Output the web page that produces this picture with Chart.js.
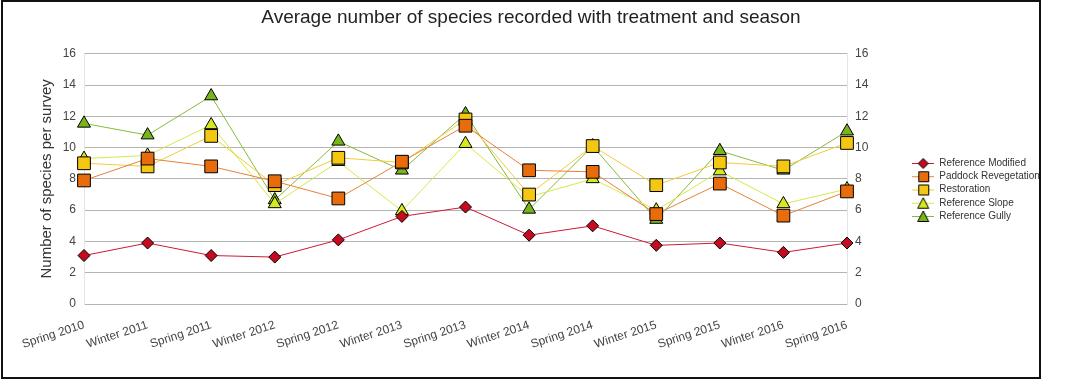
<!DOCTYPE html>
<html>
<head>
<meta charset="utf-8">
<script src="https://cdn.jsdelivr.net/npm/chart.js@4.4.0/dist/chart.umd.min.js"></script>
<style>
  html, body { margin: 0; padding: 0; background: #fff; }
  #box { position: absolute; left: 1px; top: 0; width: 1040px; height: 379px; box-sizing: border-box; border: 2px solid #111; }
  #wrap { position: relative; width: 1036px; height: 375px; }
</style>
</head>
<body>
<div id="box"><div id="wrap"><canvas id="chart"></canvas></div></div>
<script>
const seasons = ["Spring 2010", "Winter 2011", "Spring 2011", "Winter 2012", "Spring 2012", "Winter 2013", "Spring 2013",
  "Winter 2014", "Spring 2014", "Winter 2015", "Spring 2015", "Winter 2016", "Spring 2016"];

const refModified = [3.1, 3.9, 3.1, 3.0, 4.1, 5.6, 6.2, 4.4, 5.0, 3.75, 3.9, 3.3, 3.9];
const paddockReveg = [7.9, 9.3, 8.8, 7.85, 6.75, 9.1, 11.4, 8.55, 8.45, 5.75, 7.7, 5.65, 7.2];
const restoration = [9.0, 8.8, 10.75, 7.6, 9.35, 9.05, 11.8, 7.0, 10.1, 7.6, 9.05, 8.8, 10.3];
const refSlope = [9.3, 9.5, 11.45, 6.4, 9.1, 5.95, 10.25, 6.85, 8.0, 6.0, 8.5, 6.4, 7.35];
const refGully = [11.55, 10.8, 13.3, 6.65, 10.4, 8.55, 12.15, 6.05, 10.1, 5.4, 9.8, 8.55, 11.05];

const yTicks = [0, 2, 4, 6, 8, 10, 12, 14, 16];

const font = "'Liberation Sans', Arial, sans-serif";

// small line + marker icons for the legend
function makeIcon(lineColor, fill, shape) {
  const c = document.createElement("canvas");
  c.width = 22;
  c.height = 14;
  const ctx = c.getContext("2d");
  ctx.strokeStyle = lineColor;
  ctx.lineWidth = 1;
  ctx.beginPath();
  ctx.moveTo(0, 7.5);
  ctx.lineTo(22, 7.5);
  ctx.stroke();
  ctx.fillStyle = fill;
  ctx.strokeStyle = "#000";
  ctx.beginPath();
  if (shape === "diamond") {
    ctx.moveTo(11, 2.5); ctx.lineTo(16, 7.5); ctx.lineTo(11, 12.5); ctx.lineTo(6, 7.5);
  } else if (shape === "square") {
    ctx.rect(6.5, 2.5, 10, 10);
  } else {
    ctx.moveTo(11, 2); ctx.lineTo(16.5, 12.5); ctx.lineTo(5.5, 12.5);
  }
  ctx.closePath();
  ctx.fill();
  ctx.stroke();
  return c;
}

const series = [
  { label: "Reference Modified", data: refModified, line: "#cc1a36", fill: "#c50b1f", style: "rectRot", radius: 6, shape: "diamond" },
  { label: "Paddock Revegetation", data: paddockReveg, line: "#e8803a", fill: "#e96c0c", style: "rect", radius: 9, shape: "square" },
  { label: "Restoration", data: restoration, line: "#f0cc3c", fill: "#f4c812", style: "rect", radius: 9, shape: "square" },
  { label: "Reference Slope", data: refSlope, line: "#d6e84a", fill: "#d5e820", style: "triangle", radius: 7.5, shape: "tri" },
  { label: "Reference Gully", data: refGully, line: "#88bb3a", fill: "#7ab41c", style: "triangle", radius: 7.5, shape: "tri" }
];

const icons = series.map(s => makeIcon(s.line, s.fill, s.shape));

const tickFont = { family: font, size: 12 };

new Chart(document.getElementById("chart"), {
  type: "line",
  data: {
    labels: seasons,
    datasets: series.map(s => ({
      label: s.label,
      data: s.data,
      borderColor: s.line,
      backgroundColor: s.fill,
      borderWidth: 1,
      pointStyle: s.style,
      pointRadius: s.radius,
      pointHoverRadius: s.radius,
      pointBackgroundColor: s.fill,
      pointBorderColor: "#000",
      pointBorderWidth: 1,
      tension: 0,
      yAxisID: "y"
    }))
  },
  options: {
    responsive: true,
    maintainAspectRatio: false,
    animation: false,
    layout: { padding: { left: 20, right: 0, top: 0, bottom: 0 } },
    plugins: {
      title: {
        display: true,
        text: "Average number of species recorded with treatment and season",
        color: "#222",
        font: { family: font, size: 19, weight: "normal" },
        padding: { top: 4, bottom: 25 }
      },
      legend: {
        position: "right",
        maxWidth: 130,
        labels: {
          usePointStyle: true,
          pointStyleWidth: 22,
          padding: 3.25,
          color: "#333",
          font: { family: font, size: 10 },
          generateLabels: (chart) => {
            const items = Chart.defaults.plugins.legend.labels.generateLabels(chart);
            items.forEach((it, i) => { it.pointStyle = icons[i]; });
            return items;
          }
        }
      },
      tooltip: { enabled: false }
    },
    scales: {
      x: {
        offset: false,
        grid: { display: false },
        border: { display: true, color: "#b4b4b4" },
        ticks: { color: "#444", font: tickFont, minRotation: 18, maxRotation: 18, padding: 6, autoSkip: false },
        afterFit: (scale) => { scale.height = 73; }
      },
      y: {
        position: "left",
        min: 0,
        max: 16,
        afterBuildTicks: (scale) => { scale.ticks = yTicks.map(v => ({ value: v })); },
        grid: { color: "#b4b4b4", drawTicks: false },
        border: { display: true, color: "#e4e4e4" },
        ticks: { color: "#444", font: tickFont, padding: 8 },
        title: {
          display: true,
          text: "Number of species per survey",
          color: "#333",
          font: { family: font, size: 15 },
          padding: { top: 15, bottom: 0 }
        },
        afterFit: (scale) => { scale.width = 61; }
      },
      y2: {
        position: "right",
        min: 0,
        max: 16,
        afterBuildTicks: (scale) => { scale.ticks = yTicks.map(v => ({ value: v })); },
        grid: { drawOnChartArea: false, drawTicks: false },
        border: { display: true, color: "#e4e4e4" },
        ticks: { color: "#444", font: tickFont, padding: 8 },
        afterFit: (scale) => { scale.width = 62; }
      }
    }
  }
});
</script>
</body>
</html>
